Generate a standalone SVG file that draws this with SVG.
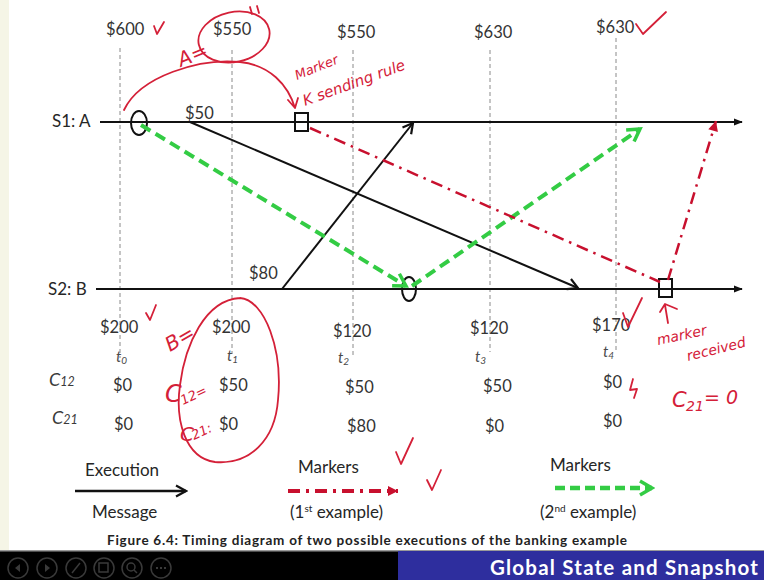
<svg xmlns="http://www.w3.org/2000/svg" width="764" height="580" viewBox="0 0 764 580">
<defs>
<style>
.amt{font-family:Lato,"Liberation Sans",sans-serif;font-size:16.5px;fill:#333}
.lbl{font-family:Lato,"Liberation Sans",sans-serif;font-size:17px;fill:#262626}
.tt{font-family:Lato,"Liberation Sans",sans-serif;font-size:15px;font-style:italic;fill:#4a4a4a}
.cc{font-family:Lato,"Liberation Sans",sans-serif;font-size:18px;font-style:italic;fill:#3a3a3a}
.vl{stroke:#8a8a8a;stroke-width:1;stroke-dasharray:4 3}
.axis{stroke:#111;stroke-width:2}
.msg{stroke:#111;stroke-width:2;fill:none}
.grn{stroke:#33cc44;stroke-width:4;stroke-dasharray:11 6;fill:none}
.red{stroke:#c8102e;stroke-width:2.5;stroke-dasharray:12 6 2.5 6;fill:none}
.hw{stroke:#d42038;stroke-width:1.8;fill:none;stroke-linecap:round;stroke-linejoin:round}
.hwt{font-family:"DejaVu Sans",sans-serif;font-style:oblique;fill:#d42038}
</style>
<marker id="ax" viewBox="0 0 10 10" refX="9" refY="5" markerWidth="9" markerHeight="9" orient="auto" markerUnits="userSpaceOnUse"><path d="M0,1 L10,5 L0,9 Z" fill="#111"/></marker>
<marker id="ah" viewBox="0 0 14 14" refX="12" refY="7" markerWidth="14" markerHeight="14" orient="auto" markerUnits="userSpaceOnUse"><path d="M2,1.5 L12,7 L2,12.5" fill="none" stroke="#111" stroke-width="2.2"/></marker>
<marker id="gh" viewBox="0 0 18 18" refX="15" refY="9" markerWidth="18" markerHeight="18" orient="auto" markerUnits="userSpaceOnUse"><path d="M3,2 L15,9 L3,16" fill="none" stroke="#33cc44" stroke-width="3.5"/></marker>
<marker id="rh" viewBox="0 0 12 12" refX="11" refY="6" markerWidth="12" markerHeight="12" orient="auto" markerUnits="userSpaceOnUse"><path d="M1,1 L11,6 L1,11 Z" fill="#c8102e"/></marker>
</defs>
<rect x="0" y="0" width="764" height="580" fill="#ffffff"/>
<rect x="0" y="0" width="9" height="552" fill="#f5f5e6"/>

<g id="time-lines">
<line class="vl" x1="120" y1="48" x2="120" y2="358"/>
<line class="vl" x1="232" y1="50" x2="232" y2="354"/>
<line class="vl" x1="353" y1="50" x2="353" y2="356"/>
<line class="vl" x1="490" y1="50" x2="490" y2="352"/>
<line class="vl" x1="616" y1="38" x2="616" y2="350"/>
</g>

<g id="top-amounts">
<text class="amt" x="106" y="35">$600</text>
<text class="amt" x="213" y="35">$550</text>
<text class="amt" x="337" y="38">$550</text>
<text class="amt" x="474" y="38">$630</text>
<text class="amt" x="596" y="33">$630</text>
</g>

<g id="S1">
<text class="lbl" x="52" y="127">S1: A</text>
<line class="axis" x1="100" y1="122" x2="742" y2="122" marker-end="url(#ax)"/>
<ellipse cx="139" cy="123" rx="8" ry="12" fill="none" stroke="#111" stroke-width="2"/>
<rect x="295" y="113" width="13" height="18" fill="none" stroke="#111" stroke-width="2"/>
<text class="amt" x="185" y="119">$50</text>
</g>

<g id="S2">
<text class="lbl" x="48" y="295">S2: B</text>
<line class="axis" x1="96" y1="289" x2="742" y2="289" marker-end="url(#ax)"/>
<ellipse cx="409" cy="289" rx="7" ry="12" fill="none" stroke="#111" stroke-width="2"/>
<rect x="659" y="279" width="13" height="18" fill="none" stroke="#111" stroke-width="2"/>
<text class="amt" x="249" y="279">$80</text>
</g>

<g id="connectors">
<line class="msg" x1="190" y1="122" x2="578" y2="288" marker-end="url(#ah)"/>
<line class="msg" x1="282" y1="289" x2="413" y2="123" marker-end="url(#ah)"/>
<line class="grn" x1="141" y1="125" x2="406" y2="286" marker-end="url(#gh)"/>
<line class="grn" x1="412" y1="286" x2="640" y2="129" marker-end="url(#gh)"/>
<line class="red" x1="310" y1="128" x2="660" y2="282"/>
<line class="red" x1="668" y1="280" x2="716" y2="121" marker-end="url(#rh)"/>
</g>

<g id="bottom-amounts">
<text class="amt" x="100" y="333">$200</text>
<text class="amt" x="212" y="333">$200</text>
<text class="amt" x="333" y="337">$120</text>
<text class="amt" x="470" y="334">$120</text>
<text class="amt" x="592" y="331">$170</text>
</g>

<g id="times">
<text class="tt" x="116" y="362">t<tspan font-size="10" dy="2">0</tspan></text>
<text class="tt" x="227" y="361">t<tspan font-size="10" dy="2">1</tspan></text>
<text class="tt" x="338" y="363">t<tspan font-size="10" dy="2">2</tspan></text>
<text class="tt" x="475" y="362">t<tspan font-size="10" dy="2">3</tspan></text>
<text class="tt" x="603" y="357">t<tspan font-size="10" dy="2">4</tspan></text>
</g>

<g id="channels">
<text class="cc" x="49" y="386">C<tspan font-size="12.5">12</tspan></text>
<text class="cc" x="52" y="424">C<tspan font-size="12.5">21</tspan></text>
<text class="amt" x="113" y="391">$0</text>
<text class="amt" x="219" y="391">$50</text>
<text class="amt" x="345" y="393">$50</text>
<text class="amt" x="483" y="392">$50</text>
<text class="amt" x="603" y="388">$0</text>
<text class="amt" x="114" y="430">$0</text>
<text class="amt" x="219" y="430">$0</text>
<text class="amt" x="347" y="432">$80</text>
<text class="amt" x="485" y="432">$0</text>
<text class="amt" x="603" y="427">$0</text>
</g>

<g id="legend">
<text class="lbl" x="85" y="476">Execution</text>
<line x1="75" y1="491" x2="186" y2="491" stroke="#111" stroke-width="2.5" marker-end="url(#ah)"/>
<text class="lbl" x="92" y="518">Message</text>
<text class="lbl" x="298" y="473">Markers</text>
<line x1="288" y1="491" x2="398" y2="491" stroke="#c8102e" stroke-width="4" stroke-dasharray="12 6 3 6" marker-end="url(#rh)"/>
<text class="lbl" x="290" y="518">(1<tspan font-size="10" dy="-6">st</tspan><tspan dy="6"> example)</tspan></text>
<text class="lbl" x="550" y="471">Markers</text>
<line x1="555" y1="488" x2="652" y2="488" stroke="#33cc44" stroke-width="4.5" stroke-dasharray="10 5" marker-end="url(#gh)"/>
<text class="lbl" x="540" y="518">(2<tspan font-size="10" dy="-6">nd</tspan><tspan dy="6"> example)</tspan></text>
</g>

<text x="107" y="545" font-family="Lato,'Liberation Sans',sans-serif" font-size="13.5" font-weight="bold" fill="#222" textLength="520" lengthAdjust="spacing">Figure 6.4: Timing diagram of two possible executions of the banking example</text>

<g id="bottom-bar">
<rect x="0" y="551" width="764" height="29" fill="#000"/>
<rect x="0" y="550" width="764" height="1.5" fill="#9a9a9a"/>
<rect x="398" y="551" width="366" height="29" fill="#2e2e9e"/>
<g fill="none" stroke="#3a3a3a" stroke-width="1.5">
<circle cx="18" cy="568" r="10"/><circle cx="47" cy="568" r="10"/><circle cx="76" cy="568" r="10"/>
<circle cx="104" cy="568" r="10"/><circle cx="132" cy="568" r="10"/><circle cx="161" cy="568" r="10"/>
<path d="M72,573 L80,563"/><circle cx="131" cy="567" r="4"/><path d="M134,570 L137,573"/>
<rect x="99" y="563" width="9" height="9"/>
</g>
<path d="M20,564 L15,568 L20,572 Z M45,564 L50,568 L45,572 Z" fill="#3a3a3a"/>
<path d="M156,568 h10" stroke="#3a3a3a" stroke-width="2" stroke-dasharray="2 2"/>
<text x="490" y="575" font-family="Lato,'Liberation Sans',sans-serif" font-size="20.5" font-weight="bold" fill="#fff" textLength="268" lengthAdjust="spacing">Global State and Snapshot</text>
</g>

<g id="annotations">
<path class="hw" d="M154,26 L157,34 L164,22"/>
<ellipse class="hw" cx="234" cy="37" rx="36" ry="25" transform="rotate(-12 234 37)"/>
<path class="hw" d="M250,7 L252,14 M257,6 L259,13"/>
<text class="hwt" x="181" y="67" font-size="20" transform="rotate(-22 181 67)">A=</text>
<path class="hw" d="M124,110 C140,76 200,58 240,62 C270,65 288,85 295,108 M288,100 L295,108 L298,98"/>
<text class="hwt" x="297" y="80" font-size="13" transform="rotate(-22 297 80)">Marker</text>
<text class="hwt" x="305" y="106" font-size="15" transform="rotate(-20 305 106)">K sending rule</text>
<path class="hw" d="M636,24 L643,34 L666,12"/>
<path class="hw" d="M146,313 L150,320 L156,305"/>
<path class="hw" d="M240,298 C265,300 283,350 278,400 C275,440 250,465 215,462 C185,458 175,420 180,385 C185,345 205,300 240,298"/>
<text class="hwt" x="170" y="352" font-size="20" transform="rotate(-30 170 352)">B=</text>
<text class="hwt" x="165" y="402" font-size="24">C</text>
<text class="hwt" x="183" y="405" font-size="13" transform="rotate(-25 183 405)">12=</text>
<text class="hwt" x="180" y="441" font-size="20">C</text>
<text class="hwt" x="194" y="440" font-size="13" transform="rotate(-25 194 440)">21:</text>
<path class="hw" d="M623,313 L628,327 L642,298"/>
<path class="hw" d="M668,323 L665,305 M660,312 L665,304 L677,309"/>
<text class="hwt" x="658" y="345" font-size="14" transform="rotate(-12 658 345)">marker</text>
<text class="hwt" x="688" y="361" font-size="14" transform="rotate(-14 688 361)">received</text>
<path class="hw" d="M633,379 L630,390 L637,389 L634,398"/>
<text class="hwt" x="672" y="407" font-size="21">C</text>
<text class="hwt" x="686" y="411" font-size="14">21</text>
<text class="hwt" x="704" y="404" font-size="19">= 0</text>
<path class="hw" d="M396,452 L401,464 L413,438"/>
<path class="hw" d="M427,480 L432,490 L441,470"/>
</g>
</svg>
